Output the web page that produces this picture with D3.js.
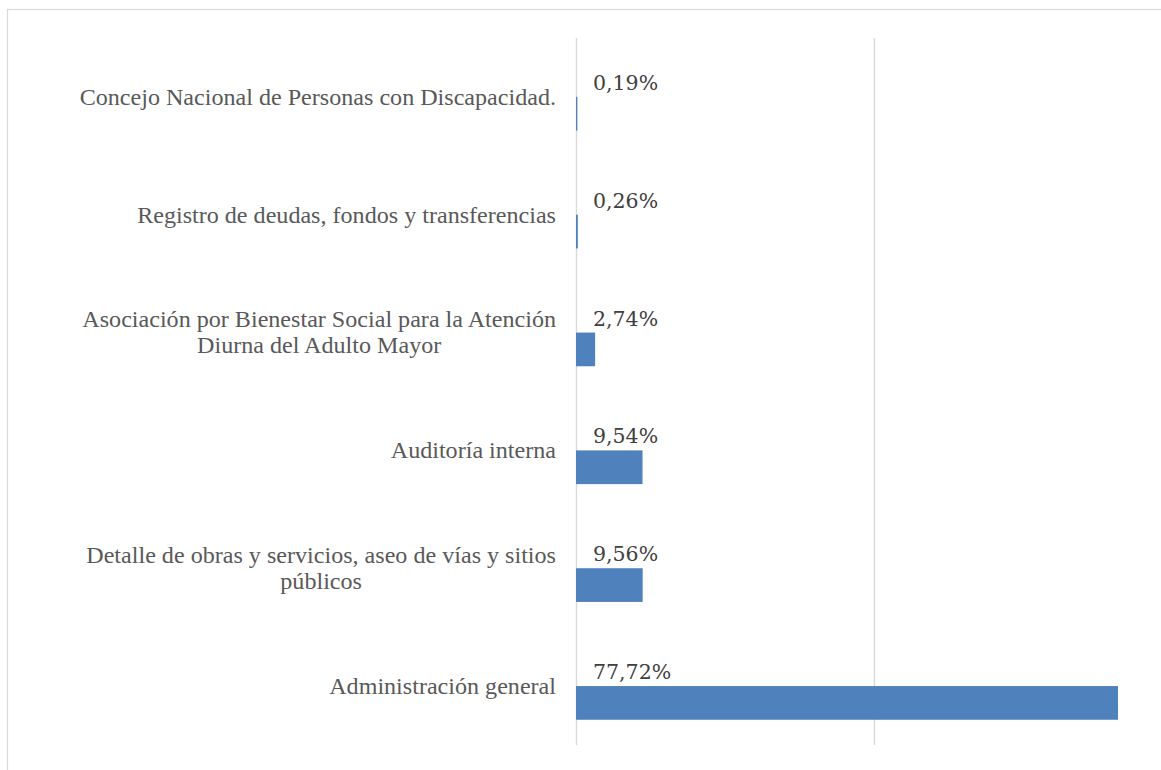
<!DOCTYPE html>
<html>
<head>
<meta charset="utf-8">
<script src="https://cdn.jsdelivr.net/npm/d3@7"></script>
<style>
    body { margin: 0; background: #ffffff; }
</style>
</head>
<body>
<div id="chart"></div>
<script>
// Categories, top to bottom (line breaks as in the original)
const categories = [
    "Concejo Nacional de Personas con Discapacidad.",
    "Registro de deudas, fondos y transferencias",
    "Asociación por Bienestar Social para la Atención\nDiurna del Adulto Mayor",
    "Auditoría interna",
    "Detalle de obras y servicios, aseo de vías y sitios\npúblicos",
    "Administración general"
];
const values = [0.19, 0.26, 2.74, 9.54, 9.56, 77.72];
const valueLabels = ["0,19%", "0,26%", "2,74%", "9,54%", "9,56%", "77,72%"];
// gridline positions on the value axis (no tick labels shown)
const gridTicks = [0, 42.73, 85.46];

function DrawChart() {
    const width = 1161;
    const height = 770;
    const margin = { top: 38, bottom: 25, left: 576, right: -11 };

    const data = categories.map((c, i) => ({ cat: c, value: values[i], label: valueLabels[i] }));

    const svg = d3.select("#chart")
        .append("svg")
        .attr("width", width)
        .attr("height", height);

    // chart frame (runs off the right and bottom of the picture)
    svg.append("rect")
        .attr("x", 7.5)
        .attr("y", 9.5)
        .attr("width", width + 20)
        .attr("height", height + 20)
        .attr("fill", "none")
        .attr("stroke", "#d9d9d9")
        .attr("stroke-width", 1.2);

    const x = d3.scaleLinear()
        .domain([0, gridTicks[gridTicks.length - 1]])
        .range([margin.left, width - margin.right]);

    // bars sit a bit low in their slots, as in the original
    const y = d3.scaleBand()
        .domain(categories)
        .range([margin.top, height - margin.bottom])
        .paddingInner(0.714)
        .paddingOuter(0.357)
        .align(0.7);

    // vertical gridlines
    svg.append("g")
        .attr("class", "grid")
        .attr("transform", `translate(0, ${margin.top})`)
        .call(d3.axisTop(x).tickValues(gridTicks).tickSize(-(height - margin.top - margin.bottom)).tickFormat(""))
        .call(g => g.select(".domain").remove())
        .call(g => g.selectAll("line").attr("stroke", "#d9d9d9").attr("stroke-width", 1.4));

    // bars
    svg.selectAll(".bar")
        .data(data)
        .join("rect")
        .attr("class", "bar")
        .attr("x", x(0))
        .attr("y", d => y(d.cat))
        .attr("width", d => x(d.value) - x(0))
        .attr("height", y.bandwidth())
        .attr("fill", "#4f81bd");

    // value labels above each bar, left-aligned
    svg.selectAll(".bar-label")
        .data(data)
        .join("text")
        .attr("class", "bar-label")
        .attr("x", x(0) + 17)
        .attr("y", d => y(d.cat) - 7)
        .attr("text-anchor", "start")
        .attr("fill", "#404040")
        .style("font-family", "'DejaVu Serif', serif")
        .style("font-size", "20.5px")
        .text(d => d.label);

    // category labels, lines centred on each other, block right-aligned
    const labelRight = 556;
    const lineHeight = 26;
    const catGroups = svg.selectAll(".cat")
        .data(data)
        .join("text")
        .attr("class", "cat")
        .attr("fill", "#595959")
        .attr("text-anchor", "middle")
        .style("font-family", "'Liberation Serif', 'Times New Roman', serif")
        .style("font-size", "24.1px");

    catGroups.each(function (d) {
        const el = d3.select(this);
        const lines = d.cat.split("\n");
        const centre = y(d.cat) + y.bandwidth() / 2;
        const firstBase = centre - 9 - (lines.length - 1) * lineHeight / 2;
        const spans = lines.map((l, i) => el.append("tspan")
            .attr("y", firstBase + i * lineHeight)
            .text(l));
        const maxW = d3.max(spans, s => s.node().getComputedTextLength());
        spans.forEach(s => s.attr("x", labelRight - maxW / 2));
    });
}

DrawChart();
</script>
</body>
</html>
